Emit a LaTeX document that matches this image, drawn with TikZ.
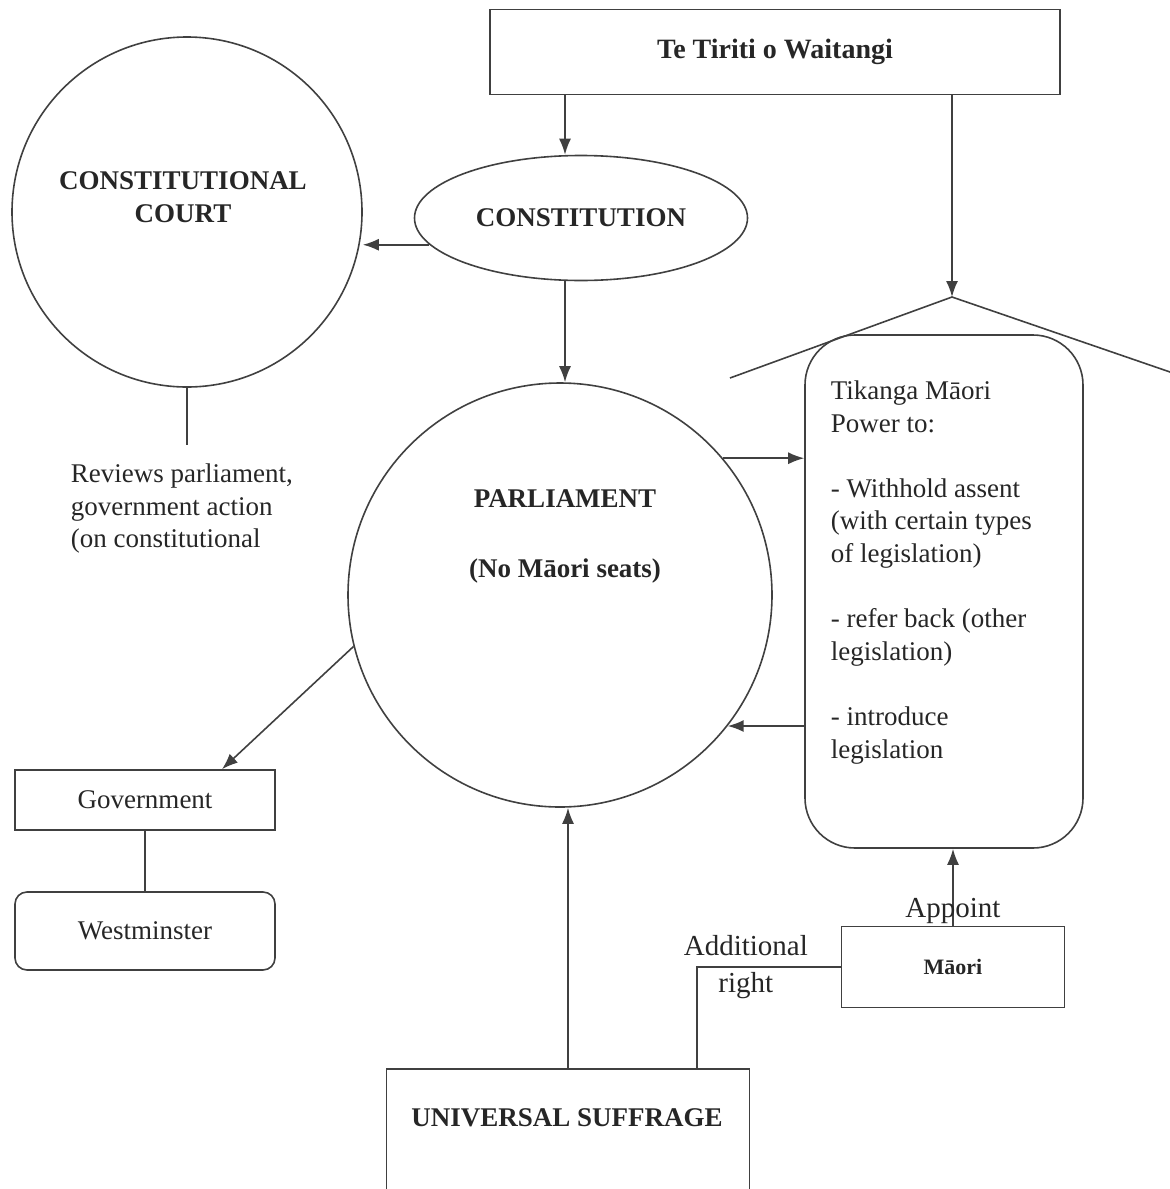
\documentclass[tikz,border=0pt]{standalone}
\usepackage{fontspec}
\setmainfont{Liberation Serif}
\usetikzlibrary{arrows.meta,positioning,shapes.geometric}

\begin{document}
\begin{tikzpicture}[
  x=0.5pt, y=-0.5pt,
  font=\fontsize{13.5}{16.3}\selectfont,
  line width=0.8pt,
  >={Latex[length=8pt,width=6pt]},
  every node/.style={text=black!85},
  box/.style={draw=black!75, minimum width=130pt, minimum height=30pt, inner sep=0pt},
  title/.style={font=\fontsize{13.5}{16.3}\selectfont\bfseries, align=center},
  tag/.style={font=\fontsize{14.5}{18.5}\selectfont, align=center, inner sep=0pt},
  ring/.style={draw=black!75, circle, inner sep=0pt},
  arr/.style={->, draw=black!75},
  link/.style={draw=black!75}
]
  \useasboundingbox (0,0) rectangle (1170,1189);
  \clip (0,0) rectangle (1170,1189);

  \node[box, minimum width=285pt, minimum height=42.5pt, title, font=\fontsize{14}{17}\selectfont\bfseries] (tiriti) at (775,52) {Te Tiriti o Waitangi};
  \node[ring, minimum size=175pt] (court) at (187,212) {};
  \node[title] (courtText) at (183,197) {CONSTITUTIONAL\\COURT};
  \node[draw=black!75, ellipse, minimum width=166.5pt, minimum height=62.5pt, inner sep=0pt, title] (const) at (581,218) {CONSTITUTION};
  \node[ring, minimum size=212pt] (parl) at (560,595) {};
  \node[title] (parlText) at (565,536) {PARLIAMENT\\[18.7pt](No Māori seats)};

  % roof over the Tikanga box
  \coordinate (apex) at (952,297);
  \coordinate (roofL) at (730,378);
  \coordinate (roofR) at (1170,372);

  \node[draw=black!75, rounded corners=25pt, minimum width=139pt, minimum height=256.5pt] (tikanga) at (944,591.5) {};
  \node[anchor=north west, align=left, inner sep=0pt] (tikText) at (830,380) {Tikanga Māori\\Power to:\\[16.3pt]- Withhold assent\\(with certain types\\of legislation)\\[16.3pt]- refer back (other\\legislation)\\[16.3pt]- introduce\\legislation};

  \node[anchor=north west, align=left, inner sep=0pt] (reviews) at (70,463) {Reviews parliament,\\government action\\(on constitutional};
  \node[box] (gov) at (145,800) {Government};
  \node[box, rounded corners=6pt, minimum height=39pt] (west) at (145,931) {Westminster};

  \node[box, minimum width=181.5pt, minimum height=80pt, anchor=north] (suff) at (568,1068) {};
  \node[title] (suffText) at (567,1118) {UNIVERSAL SUFFRAGE};
  \node[box, minimum width=111.5pt, minimum height=40.5pt, title, font=\fontsize{11}{13}\selectfont\bfseries] (maori) at (953,967) {Māori};

  \draw[arr] ([xshift=-8pt]tiriti.south -| const.north) -- ([xshift=-8pt]const.north);
  \draw[arr] (tiriti.south -| apex) -- (apex);
  \draw[link] (roofL) -- (apex) -- (roofR);
  \draw[arr] (const.190) -- (const.190 -| court.east);
  \draw[link] (court.south) -- ([yshift=9pt]court.south |- reviews.north);
  \draw[arr] ([xshift=-8pt]const.south) -- ([xshift=-8pt]const.south |- parl.north);
  \draw[arr] (parl.40) -- (parl.40 -| tikanga.west);
  \draw[arr] (tikanga.west |- parl.-38) -- (parl.-38);
  \draw[arr] (parl.194) -- ([xshift=38.5pt]gov.north);
  \draw[link] (gov.south) -- (west.north);
  \draw[arr] (suff.north) -- (suff.north |- parl.south);
  \draw[link] ([xshift=64.5pt]suff.north) |- node[tag, pos=0.67] (addLabel) {Additional\\right} (maori.west);
  \draw[arr] (maori.north) -- node[tag, pos=0.19] (appointLabel) {Appoint} (maori.north |- tikanga.south);
\end{tikzpicture}
\end{document}
